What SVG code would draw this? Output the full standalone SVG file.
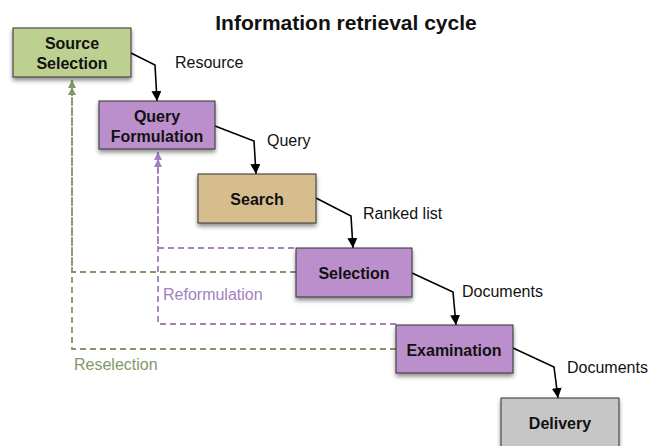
<svg xmlns="http://www.w3.org/2000/svg" width="649" height="446" viewBox="0 0 649 446">
  <defs>
    <filter id="shadow" x="-10%" y="-10%" width="130%" height="140%">
      <feDropShadow dx="0" dy="3" stdDeviation="2" flood-color="#000" flood-opacity="0.45"/>
    </filter>
    <marker id="arrow" viewBox="0 0 10 10" refX="10" refY="5" markerWidth="10" markerHeight="10" markerUnits="userSpaceOnUse" orient="auto">
      <path d="M0,0 L10,5 L0,10 z" fill="#000"/>
    </marker>
    <marker id="arrowGreen" viewBox="0 0 10 10" refX="10" refY="5" markerWidth="9" markerHeight="8" markerUnits="userSpaceOnUse" orient="auto">
      <path d="M0,0 L10,5 L0,10 z" fill="#84976a"/>
    </marker>
    <marker id="arrowPurple" viewBox="0 0 10 10" refX="10" refY="5" markerWidth="9" markerHeight="8" markerUnits="userSpaceOnUse" orient="auto">
      <path d="M0,0 L10,5 L0,10 z" fill="#a27fbd"/>
    </marker>
  </defs>
  <style>
    .box { stroke: #333; stroke-width: 1; filter: url(#shadow); }
    .name { font-family: "Liberation Sans", Arial, sans-serif; font-weight: bold; font-size: 16px; fill: #111; text-anchor: middle; }
    .label { font-family: "Liberation Sans", Arial, sans-serif; font-size: 16px; fill: #111; }
    .flow { fill: none; stroke: #000; stroke-width: 1.6; marker-end: url(#arrow); }
    .back-green { fill: none; stroke: #84976a; stroke-width: 1.8; stroke-dasharray: 6 4; marker-end: url(#arrowGreen); }
    .back-purple { fill: none; stroke: #a27fbd; stroke-width: 1.8; stroke-dasharray: 6 4; marker-end: url(#arrowPurple); }
  </style>
  <rect width="649" height="446" fill="#fff"/>

  <text x="346" y="30" font-family="Liberation Sans, Arial, sans-serif" font-weight="bold" font-size="21" text-anchor="middle" fill="#111">Information retrieval cycle</text>

  <g id="connectors">
    <!-- feedback loops -->
    <path class="back-green" d="M296,272 H72 V80"/>
    <path class="back-green" d="M396,349 H72 V87"/>
    <path class="back-purple" d="M294,248 H158 V152"/>
    <path class="back-purple" d="M396,324 H158 V159"/>
    <!-- forward flow -->
    <path class="flow" d="M131,53 L155,65 L157,101"/>
    <path class="flow" d="M215,126 L254,141 L256,174"/>
    <path class="flow" d="M316,198 L351,216 L353,248"/>
    <path class="flow" d="M412,273 L453,292 L456,325"/>
    <path class="flow" d="M513,348 L554,367 L558,398"/>
    <!-- connector labels -->
    <text class="label" x="175" y="68">Resource</text>
    <text class="label" x="267" y="146">Query</text>
    <text class="label" x="363" y="219">Ranked list</text>
    <text class="label" x="462" y="297">Documents</text>
    <text class="label" x="567" y="373">Documents</text>
    <text class="label" x="163" y="300" style="fill:#a27fbd">Reformulation</text>
    <text class="label" x="74" y="370" style="fill:#84976a">Reselection</text>
  </g>

  <g id="source-selection">
    <rect class="box" x="13" y="28" width="118" height="49" fill="#bdd08f"/>
    <text class="name" x="72" y="49">Source</text>
    <text class="name" x="72" y="69">Selection</text>
  </g>
  <g id="query-formulation">
    <rect class="box" x="99" y="101" width="116" height="48" fill="#bb8fcc"/>
    <text class="name" x="157" y="122">Query</text>
    <text class="name" x="157" y="142">Formulation</text>
  </g>
  <g id="search">
    <rect class="box" x="198" y="174" width="118" height="49" fill="#d6bd8d"/>
    <text class="name" x="257" y="205">Search</text>
  </g>
  <g id="selection">
    <rect class="box" x="296" y="248" width="116" height="49" fill="#bb8fcc"/>
    <text class="name" x="354" y="279">Selection</text>
  </g>
  <g id="examination">
    <rect class="box" x="396" y="325" width="117" height="48" fill="#bb8fcc"/>
    <text class="name" x="454" y="356">Examination</text>
  </g>
  <g id="delivery">
    <rect class="box" x="501" y="398" width="118" height="50" fill="#c6c6c6"/>
    <text class="name" x="560" y="429">Delivery</text>
  </g>
</svg>
